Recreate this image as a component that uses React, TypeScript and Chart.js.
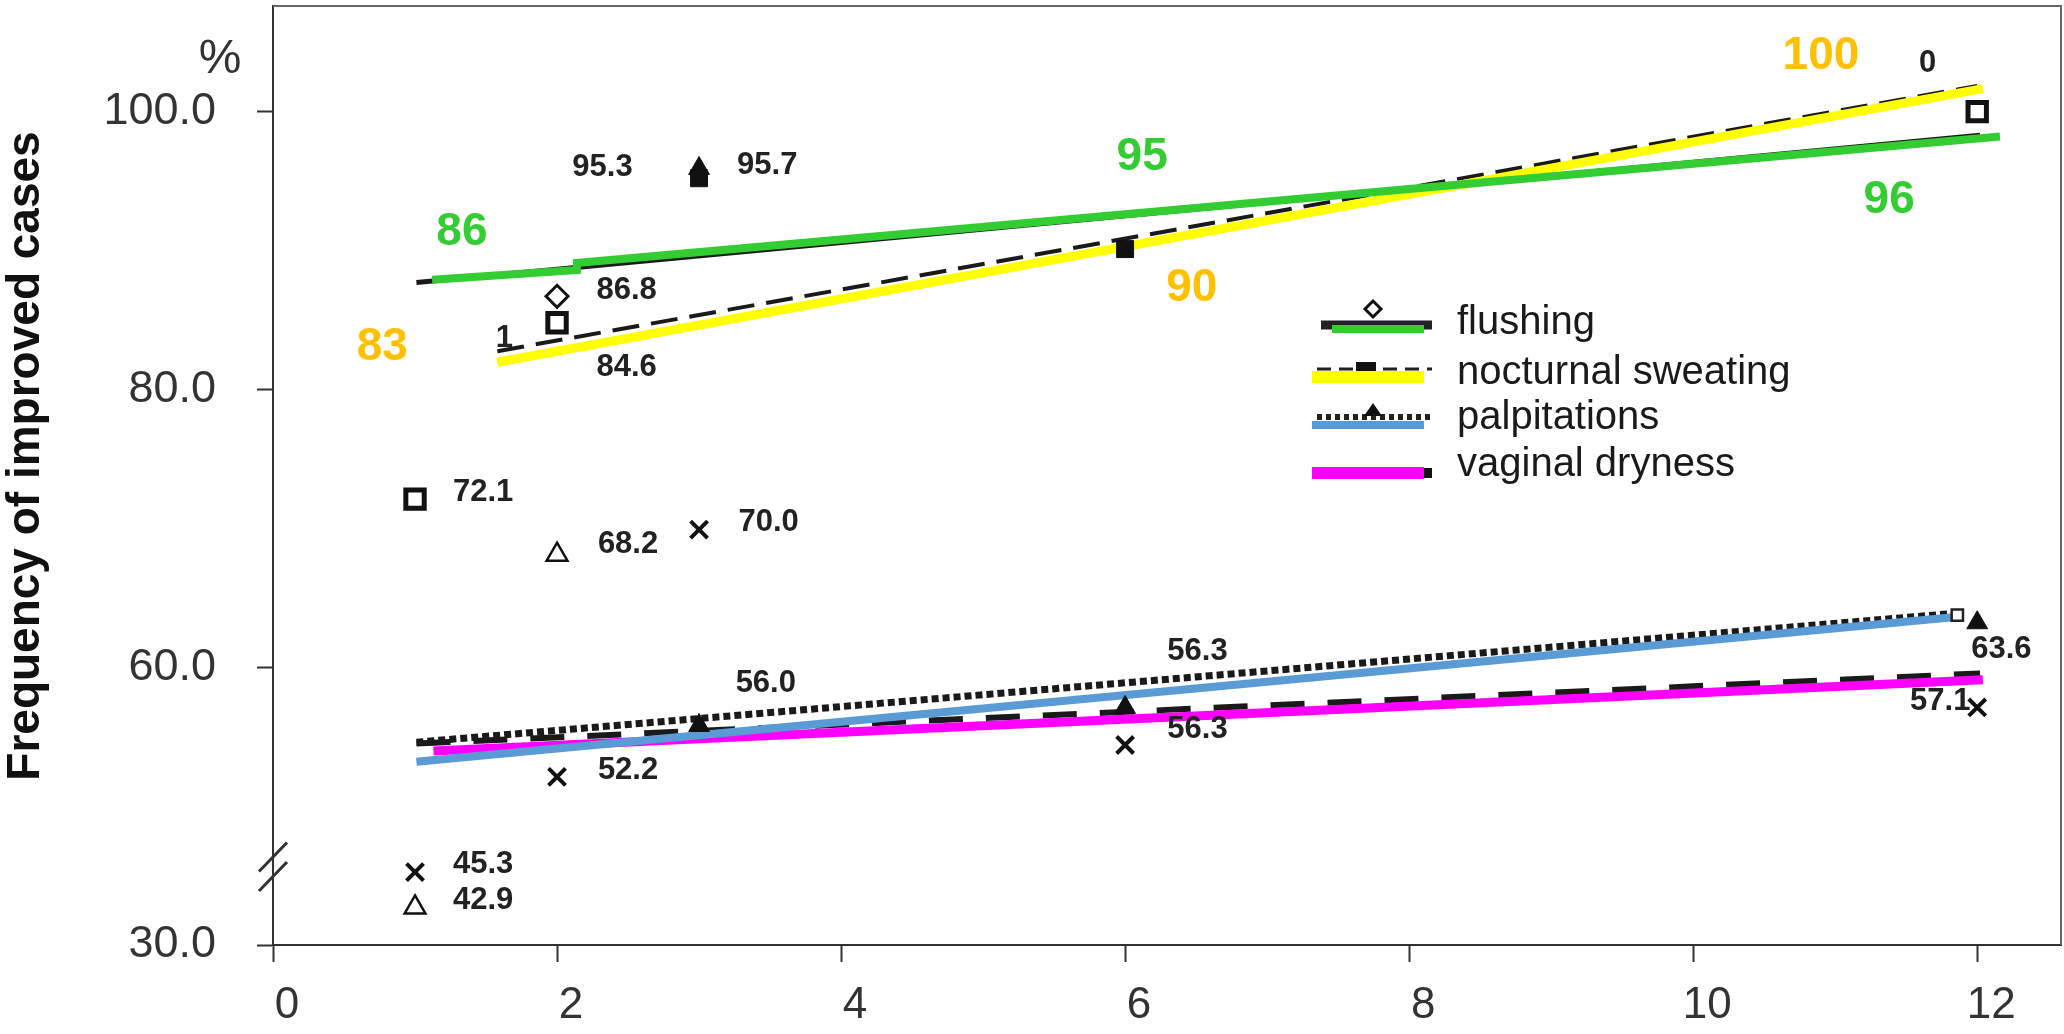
import React, { useEffect, useRef } from 'react';
import { Chart, registerables } from 'chart.js';

Chart.register(...registerables);

const W = 2064;
const H = 1034;
const FONT = "'Liberation Sans', Arial, Helvetica, sans-serif";

// ---- tick labels ----
const xTicks = [0, 2, 4, 6, 8, 10, 12];
const yTicks = [40, 60, 80, 100];
const yTickText = ['30.0', '60.0', '80.0', '100.0'];

// ---- coloured trend lines ----
const flushingTrendX = [1.12, 2.14, 2.14, 12.16];
const flushingTrendY = [87.9, 88.6, 89.1, 98.2];
const sweatingTrendX = [1.58, 12.04];
const sweatingTrendY = [81.95, 101.65];
const palpTrendX = [1.01, 11.83];
const palpTrendY = [53.2, 63.6];
const drynessTrendX = [1.13, 12.04];
const drynessTrendY = [53.96, 59.1];

// ---- original black lines ----
const flushingOrigX = [1.01, 12.02];
const flushingOrigY = [87.7, 98.3];
const sweatingOrigX = [1.58, 12.0];
const sweatingOrigY = [82.75, 101.85];
const palpOrigX = [1.01, 11.81];
const palpOrigY = [54.6, 63.85];
const drynessOrigX = [1.01, 12.02];
const drynessOrigY = [54.5, 59.55];

// ---- markers ----
const diamondX = [2];
const diamondY = [86.7];
const openSquareX = [2, 1, 12];
const openSquareY = [84.8, 72.1, 100.0];
const smallSquareX = [11.86];
const smallSquareY = [63.75];
const openTriX = [2, 1];
const openTriY = [68.1, 42.7];
const crossX = [3, 1, 2, 6, 12];
const crossY = [69.9, 45.25, 52.1, 54.4, 57.1];
const filledSquareX = [3, 6];
const filledSquareY = [95.2, 90.1];
const filledTriX = [3, 3, 6, 12];
const filledTriY = [95.9, 55.8, 57.1, 63.2];

// ---- value labels ----
const valueLabelText = ['95.3', '95.7', '86.8', '84.6', '72.1', '68.2', '70.0', '56.0', '56.3', '56.3', '52.2', '45.3', '42.9', '63.6', '57.1', '0', '1'];
const valueLabelX = [2.32, 3.48, 2.49, 2.49, 1.48, 2.5, 3.49, 3.47, 6.51, 6.51, 2.5, 1.48, 1.48, 12.17, 11.74, 11.65, 1.63];
const valueLabelY = [95.95, 96.1, 87.1, 81.6, 72.6, 68.8, 70.4, 58.85, 61.1, 55.5, 52.6, 45.8, 43.2, 61.3, 57.5, 103.45, 83.7];

// ---- coloured labels ----
const greenLabelText = ['86', '95', '96'];
const greenLabelX = [1.33, 6.12, 11.38];
const greenLabelY = [91.3, 96.7, 93.6];
const orangeLabelText = ['83', '90', '100'];
const orangeLabelX = [0.77, 6.47, 10.9];
const orangeLabelY = [83.0, 87.3, 104.0];

// ---- legend ----
const legendNames = ['flushing', 'nocturnal sweating', 'palpitations', 'vaginal dryness'];

const GREEN = '#33CC33';
const YELLOW = '#FFFF00';
const BLUE = '#5B9BD5';
const MAGENTA = '#FF00FF';
const ORANGE = '#FFC000';
const INK = '#1a1a1a';

const zip = (xs: number[], ys: number[]) => xs.map((x, i) => ({ x, y: ys[i] }));

const overlayPlugin = {
  id: 'overlay',
  afterDraw(chart: any) {
    const ctx = chart.ctx;
    const xs = chart.scales.x;
    const ys = chart.scales.y;
    const area = chart.chartArea;
    const px = (v: number) => xs.getPixelForValue(v);
    const py = (v: number) => ys.getPixelForValue(v);

    ctx.save();
    // top & right frame
    ctx.strokeStyle = '#666';
    ctx.lineWidth = 2;
    ctx.beginPath();
    ctx.moveTo(area.left, area.top);
    ctx.lineTo(area.right, area.top);
    ctx.lineTo(area.right, area.bottom);
    ctx.stroke();

    // axis break
    ctx.strokeStyle = '#333';
    ctx.lineWidth = 3;
    const bx = area.left;
    const b1 = py(46.3);
    const b2 = py(44.9);
    ctx.beginPath();
    ctx.moveTo(bx - 14, b1 + 14);
    ctx.lineTo(bx + 14, b1 - 15);
    ctx.moveTo(bx - 14, b2 + 14);
    ctx.lineTo(bx + 14, b2 - 15);
    ctx.stroke();

    const text = (s: string, x: number, y: number, font: string, color: string, align: CanvasTextAlign = 'center') => {
      ctx.font = font;
      ctx.fillStyle = color;
      ctx.textAlign = align;
      ctx.textBaseline = 'middle';
      ctx.fillText(s, x, y);
    };

    // y title
    ctx.save();
    ctx.translate(26, 456);
    ctx.rotate(-Math.PI / 2);
    text('Frequency of improved cases', 0, 0, `bold 46px ${FONT}`, '#111');
    ctx.restore();

    // percent sign
    text('%', 220, 60, `48px ${FONT}`, '#333');

    // value labels
    valueLabelText.forEach((s, i) => {
      text(s, px(valueLabelX[i]), py(valueLabelY[i]), `bold 31px ${FONT}`, '#222');
    });
    greenLabelText.forEach((s, i) => {
      text(s, px(greenLabelX[i]), py(greenLabelY[i]), `bold 46px ${FONT}`, GREEN);
    });
    orangeLabelText.forEach((s, i) => {
      text(s, px(orangeLabelX[i]), py(orangeLabelY[i]), `bold 46px ${FONT}`, ORANGE);
    });

    // legend
    const lx0 = 1312;
    const lx1 = 1424;
    const tx = 1457;
    const rows = [323, 373, 418, 465];
    const line = (x0: number, x1: number, y: number, w: number, c: string, dash: number[] = []) => {
      ctx.setLineDash(dash);
      ctx.strokeStyle = c;
      ctx.lineWidth = w;
      ctx.lineCap = 'butt';
      ctx.beginPath();
      ctx.moveTo(x0, y);
      ctx.lineTo(x1, y);
      ctx.stroke();
      ctx.setLineDash([]);
    };
    // flushing
    line(1321, 1432, rows[0] + 2, 9, '#222');
    line(1332, lx1, rows[0] + 6, 8, GREEN);
    ctx.fillStyle = '#fff';
    ctx.strokeStyle = '#111';
    ctx.lineWidth = 3;
    ctx.beginPath();
    ctx.moveTo(1373, rows[0] - 22);
    ctx.lineTo(1381, rows[0] - 14);
    ctx.lineTo(1373, rows[0] - 6);
    ctx.lineTo(1365, rows[0] - 14);
    ctx.closePath();
    ctx.fill();
    ctx.stroke();
    // nocturnal sweating
    line(1317, 1432, rows[1] - 4, 3, '#222', [14, 8]);
    ctx.fillStyle = '#111';
    ctx.fillRect(1356, rows[1] - 11, 20, 12);
    line(lx0, lx1, rows[1] + 4, 12, YELLOW);
    // palpitations
    line(1317, 1432, rows[2] - 1, 6, '#222', [5, 4]);
    ctx.fillStyle = '#111';
    ctx.beginPath();
    ctx.moveTo(1373, rows[2] - 15);
    ctx.lineTo(1382, rows[2] - 2);
    ctx.lineTo(1364, rows[2] - 2);
    ctx.closePath();
    ctx.fill();
    line(lx0, lx1, rows[2] + 7, 8, BLUE);
    // vaginal dryness
    line(lx0, lx1, rows[3] + 8, 12, MAGENTA);
    ctx.fillStyle = '#111';
    ctx.fillRect(1424, rows[3] + 3, 8, 10);

    legendNames.forEach((s, i) => {
      text(s, tx, rows[i], `40px ${FONT}`, INK, 'left');
    });

    ctx.restore();
  },
};

export default function App() {
  const ref = useRef<HTMLCanvasElement | null>(null);

  useEffect(() => {
    if (!ref.current) return;
    const markerBase = { showLine: false, order: 0, clip: false };
    const chart = new Chart(ref.current, {
      type: 'scatter',
      data: {
        datasets: [
          // markers
          { ...markerBase, label: 'diamond', data: zip(diamondX, diamondY), pointStyle: 'rectRot', pointRadius: 11, pointBorderWidth: 3, pointBackgroundColor: '#fff', pointBorderColor: '#111' },
          { ...markerBase, label: 'openSquare', data: zip(openSquareX, openSquareY), pointStyle: 'rect', pointRadius: 13, pointBorderWidth: 5, pointBackgroundColor: '#fff', pointBorderColor: '#111' },
          { ...markerBase, label: 'smallSquare', data: zip(smallSquareX, smallSquareY), pointStyle: 'rect', pointRadius: 8, pointBorderWidth: 2.5, pointBackgroundColor: '#fff', pointBorderColor: '#222' },
          { ...markerBase, label: 'openTri', data: zip(openTriX, openTriY), pointStyle: 'triangle', pointRadius: 12, pointBorderWidth: 2.5, pointBackgroundColor: '#fff', pointBorderColor: '#111' },
          { ...markerBase, label: 'cross', data: zip(crossX, crossY), pointStyle: 'crossRot', pointRadius: 12, pointBorderWidth: 4, pointBackgroundColor: '#111', pointBorderColor: '#111' },
          { ...markerBase, label: 'filledSquare', data: zip(filledSquareX, filledSquareY), pointStyle: 'rect', pointRadius: 12, pointBorderWidth: 1, pointBackgroundColor: '#111', pointBorderColor: '#111' },
          { ...markerBase, label: 'filledTri', data: zip(filledTriX, filledTriY), pointStyle: 'triangle', pointRadius: 12, pointBorderWidth: 1, pointBackgroundColor: '#111', pointBorderColor: '#111' },
          // coloured trends
          { label: 'flushing', data: zip(flushingTrendX, flushingTrendY), showLine: true, borderColor: GREEN, borderWidth: 8, pointRadius: 0, order: 1 },
          { label: 'nocturnal sweating', data: zip(sweatingTrendX, sweatingTrendY), showLine: true, borderColor: YELLOW, borderWidth: 9, pointRadius: 0, order: 1 },
          { label: 'palpitations', data: zip(palpTrendX, palpTrendY), showLine: true, borderColor: BLUE, borderWidth: 8, pointRadius: 0, order: 1 },
          { label: 'vaginal dryness', data: zip(drynessTrendX, drynessTrendY), showLine: true, borderColor: MAGENTA, borderWidth: 9, pointRadius: 0, order: 1 },
          // original black lines
          { label: 'flushingOrig', data: zip(flushingOrigX, flushingOrigY), showLine: true, borderColor: '#1a1a1a', borderWidth: 5, pointRadius: 0, order: 2 },
          { label: 'sweatingOrig', data: zip(sweatingOrigX, sweatingOrigY), showLine: true, borderColor: '#1a1a1a', borderWidth: 4, borderDash: [27, 12], pointRadius: 0, order: 2 },
          { label: 'palpOrig', data: zip(palpOrigX, palpOrigY), showLine: true, borderColor: '#1a1a1a', borderWidth: 7, borderDash: [7, 4], pointRadius: 0, order: 2 },
          { label: 'drynessOrig', data: zip(drynessOrigX, drynessOrigY), showLine: true, borderColor: '#1a1a1a', borderWidth: 6, borderDash: [34, 23], pointRadius: 0, order: 2 },
        ] as any,
      },
      options: {
        animation: false,
        responsive: false,
        devicePixelRatio: 1,
        layout: { autoPadding: false, padding: { left: 0, top: 6, right: 3, bottom: 0 } },
        plugins: { legend: { display: false }, tooltip: { enabled: false }, title: { display: false } },
        scales: {
          x: {
            type: 'linear',
            min: 0,
            max: 12.59,
            afterBuildTicks: (s: any) => { s.ticks = xTicks.map((v) => ({ value: v })); },
            afterFit: (s: any) => {
              s.height = 89;
              s.paddingLeft = 0;
              s.paddingRight = 0;
              s.paddingTop = 0;
              s.paddingBottom = 0;
            },
            ticks: {
              font: { family: FONT, size: 44 },
              color: '#333',
              padding: 17,
              labelOffset: 14,
              maxRotation: 0,
              callback: (v: any) => String(v),
            },
            grid: { drawOnChartArea: false, drawTicks: true, tickLength: 17, tickColor: '#333', tickWidth: 2 },
            border: { display: true, color: '#333', width: 2 },
          },
          y: {
            type: 'linear',
            min: 40,
            max: 107.6,
            afterBuildTicks: (s: any) => { s.ticks = yTicks.map((v) => ({ value: v })); },
            afterFit: (s: any) => {
              s.width = 273;
              s.paddingLeft = 0;
              s.paddingRight = 0;
              s.paddingTop = 0;
              s.paddingBottom = 0;
            },
            ticks: {
              font: { family: FONT, size: 45 },
              color: '#333',
              padding: 41,
              callback: (v: any) => {
                const i = yTicks.indexOf(Number(v));
                return i >= 0 ? yTickText[i] : '';
              },
            },
            grid: { drawOnChartArea: false, drawTicks: true, tickLength: 16, tickColor: '#333', tickWidth: 2 },
            border: { display: true, color: '#333', width: 2 },
          },
        },
      } as any,
      plugins: [overlayPlugin],
    });
    return () => chart.destroy();
  }, []);

  return (
    <div style={{ position: 'absolute', left: 0, top: 0, width: W, height: H, background: '#fff' }}>
      <canvas ref={ref} width={W} height={H} style={{ display: 'block', width: W, height: H }} />
    </div>
  );
}
